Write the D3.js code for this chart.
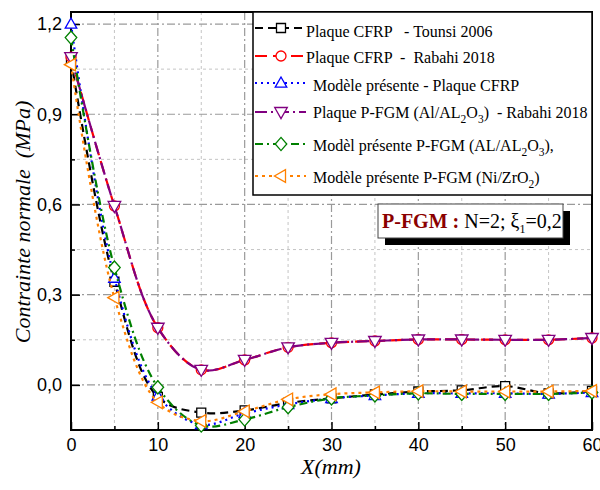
<!DOCTYPE html>
<html><head><meta charset="utf-8">
<script src="https://cdn.jsdelivr.net/npm/d3@7/dist/d3.min.js"></script>
<style>body{margin:0;background:#fff}svg{display:block}text{white-space:pre}</style>
</head><body>
<svg id="chart" width="600" height="490"></svg>
<script>
// ---- data ----
const xValues = [0, 5, 10, 15, 20, 25, 30, 35, 40, 45, 50, 55, 60];
const cfrpTounsi   = [1.08, 0.343, -0.04, -0.092, -0.085, -0.06, -0.045, -0.032, -0.022, -0.018, -0.004, -0.028, -0.02];
const cfrpRabahi   = [1.09, 0.595, 0.19, 0.05, 0.083, 0.125, 0.14, 0.146, 0.151, 0.151, 0.15, 0.15, 0.156];
const modeleCfrp   = [1.2, 0.355, -0.037, -0.132, -0.095, -0.065, -0.045, -0.035, -0.028, -0.028, -0.028, -0.03, -0.025];
const pfgmRabahi   = [1.09, 0.595, 0.19, 0.05, 0.083, 0.125, 0.14, 0.146, 0.151, 0.151, 0.15, 0.15, 0.156];
const modelePfgmAl = [1.155, 0.39, -0.008, -0.135, -0.115, -0.074, -0.045, -0.035, -0.028, -0.03, -0.03, -0.03, -0.025];
const modelePfgmNi = [1.065, 0.29, -0.058, -0.12, -0.088, -0.048, -0.031, -0.025, -0.021, -0.022, -0.022, -0.022, -0.02];
const xTicks = [0, 10, 20, 30, 40, 50, 60];
const yTicks = [0, 0.3, 0.6, 0.9, 1.2];
const xMinor = [5, 15, 25, 35, 45, 55];
const yMinor = [0.15, 0.45, 0.75, 1.05];
const legendLabels = [
  [{t:"Plaque CFRP   - Tounsi 2006"}],
  [{t:"Plaque CFRP  -  Rabahi 2018"}],
  [{t:"Modèle présente - Plaque CFRP"}],
  [{t:"Plaque P-FGM (Al/AL"},{t:"2",sub:1},{t:"O"},{t:"3",sub:1},{t:")  - Rabahi 2018"}],
  [{t:"Modèl présente P-FGM (AL/AL"},{t:"2",sub:1},{t:"O"},{t:"3",sub:1},{t:"),"}],
  [{t:"Modèle présente P-FGM (Ni/ZrO"},{t:"2",sub:1},{t:")"}]
];

const series = [
  {vals: cfrpTounsi,   color:"#000000", dash:"8,5",       marker:"square"},
  {vals: cfrpRabahi,   color:"#FF0000", dash:"12,6",      marker:"circle"},
  {vals: modeleCfrp,   color:"#0000FF", dash:"2,4",       marker:"triUp"},
  {vals: pfgmRabahi,   color:"#800080", dash:"12,4,2,4",  marker:"triDown"},
  {vals: modelePfgmAl, color:"#008000", dash:"8,4,2,4",   marker:"diamond"},
  {vals: modelePfgmNi, color:"#FF8000", dash:"3,4",       marker:"triLeft"}
];

// ---- layout ----
const svg = d3.select("#chart");
const L = 71, R = 592, T = 12, B = 430;
const x = d3.scaleLinear().domain([0, 60]).range([L, R]);
const y = d3.scaleLinear().domain([-0.15, 1.24]).range([B, T]);

svg.append("defs").append("clipPath").attr("id","clip")
  .append("rect").attr("x",L).attr("y",T).attr("width",R-L).attr("height",B-T);

// grid
const g = svg.append("g");
xMinor.forEach(v => g.append("line").attr("x1",x(v)).attr("x2",x(v)).attr("y1",T).attr("y2",B)
  .attr("stroke","#c4c4c4").attr("stroke-width",1).attr("stroke-dasharray","3,3"));
yMinor.forEach(v => g.append("line").attr("x1",L).attr("x2",R).attr("y1",y(v)).attr("y2",y(v))
  .attr("stroke","#c4c4c4").attr("stroke-width",1).attr("stroke-dasharray","3,3"));
xTicks.filter(v=>v>0&&v<60).forEach(v => g.append("line").attr("x1",x(v)).attr("x2",x(v)).attr("y1",T).attr("y2",B)
  .attr("stroke","#9a9a9a").attr("stroke-width",1.2).attr("stroke-dasharray","8,3,2,3"));
yTicks.forEach(v => g.append("line").attr("x1",L).attr("x2",R).attr("y1",y(v)).attr("y2",y(v))
  .attr("stroke","#9a9a9a").attr("stroke-width",1.2).attr("stroke-dasharray","8,3,2,3"));

// axes
const fmt = d => d3.format(".1f")(d).replace(".", ",");
const ax = svg.append("g").attr("transform",`translate(0,${B})`)
  .call(d3.axisBottom(x).tickValues(xTicks).tickSize(-8).tickPadding(8).tickFormat(d3.format("d")));
const axm = svg.append("g").attr("transform",`translate(0,${B})`)
  .call(d3.axisBottom(x).tickValues(xMinor).tickSize(-4).tickFormat(""));
const ay = svg.append("g").attr("transform",`translate(${L},0)`)
  .call(d3.axisLeft(y).tickValues(yTicks).tickSize(-9).tickPadding(9).tickFormat(fmt));
const aym = svg.append("g").attr("transform",`translate(${L},0)`)
  .call(d3.axisLeft(y).tickValues(yMinor).tickSize(-4).tickFormat(""));
[ax, axm, ay, aym].forEach(a => {
  a.select(".domain").remove();
  a.selectAll(".tick line").attr("stroke","#000").attr("stroke-width",1.5);
  a.selectAll("text").attr("font-family","Liberation Sans, Arial, sans-serif").attr("font-size",18).attr("fill","#000");
});

// frame
svg.append("rect").attr("x",L).attr("y",T).attr("width",R-L).attr("height",B-T)
  .attr("fill","none").attr("stroke","#000").attr("stroke-width",2);

// markers
function markerPath(type, s) {
  const h = s/2;
  switch(type){
    case "square": return `M${-h},${-h}H${h}V${h}H${-h}Z`;
    case "circle": return d3.symbol(d3.symbolCircle, Math.PI*h*h)();
    case "triUp": return `M0,${-h*1.1}L${h*1.05},${h*0.75}L${-h*1.05},${h*0.75}Z`;
    case "triDown": return `M0,${h*1.1}L${h*1.05},${-h*0.75}L${-h*1.05},${-h*0.75}Z`;
    case "triLeft": return `M${-h*1.1},0L${h*0.75},${-h*1.05}L${h*0.75},${h*1.05}Z`;
    case "diamond": return `M0,${-h*1.2}L${h*1.05},0L0,${h*1.2}L${-h*1.05},0Z`;
  }
}
const msize = {square:9, circle:10, triUp:11, triDown:12, triLeft:12, diamond:11};

const line = d3.line().x((d,i)=>x(xValues[i])).y(d=>y(d)).curve(d3.curveCatmullRom.alpha(0.5));
const plot = svg.append("g");
series.forEach(s => {
  plot.append("path").attr("d", line(s.vals)).attr("clip-path","url(#clip)")
    .attr("fill","none").attr("stroke",s.color).attr("stroke-width",2.2)
    .attr("stroke-dasharray",s.dash);
  plot.selectAll(null).data(s.vals).enter().append("path")
    .attr("transform",(d,i)=>`translate(${x(xValues[i])},${y(d)})`)
    .attr("d", markerPath(s.marker, msize[s.marker]))
    .attr("fill","#fff").attr("stroke",s.color).attr("stroke-width",1.3);
});

// legend
const lg = svg.append("g");
lg.append("rect").attr("x",253).attr("y",T).attr("width",R-253).attr("height",183)
  .attr("fill","#fff").attr("stroke","#000").attr("stroke-width",1.5);
const rowY = [28, 56, 83, 112, 144, 176];
const baseY = [37, 63, 91, 118, 151, 183];
const textX = [306, 306, 313, 313, 313, 313];
series.forEach((s, i) => {
  lg.append("line").attr("x1",255).attr("x2",306).attr("y1",rowY[i]).attr("y2",rowY[i])
    .attr("stroke",s.color).attr("stroke-width",2.2).attr("stroke-dasharray",s.dash);
  lg.append("path").attr("transform",`translate(281,${rowY[i]})`)
    .attr("d", markerPath(s.marker, msize[s.marker]))
    .attr("fill","#fff").attr("stroke",s.color).attr("stroke-width",1.3);
  const t = lg.append("text").attr("x",textX[i]).attr("y",baseY[i])
    .attr("font-family","Liberation Serif, Times New Roman, serif").attr("font-size",16).attr("fill","#000");
  let shifted = false;
  legendLabels[i].forEach(p => {
    const ts = t.append("tspan").text(p.t);
    if (p.sub) { ts.attr("font-size",11.5).attr("dy", shifted ? 0 : 5); shifted = true; }
    else if (shifted) { ts.attr("dy",-5); shifted = false; }
  });
});

// annotation box
svg.append("rect").attr("x",385).attr("y",211).attr("width",185).attr("height",34).attr("fill","#000");
svg.append("rect").attr("x",378).attr("y",204).attr("width",185).attr("height",34)
  .attr("fill","#fff").attr("stroke","#444").attr("stroke-width",1);
const at = svg.append("text").attr("x",382).attr("y",228)
  .attr("font-family","Liberation Serif, Times New Roman, serif").attr("font-size",20).attr("fill","#000");
at.append("tspan").attr("font-weight","bold").attr("fill","#8B0000").text("P-FGM :");
at.append("tspan").text(" N=2; ξ");
at.append("tspan").attr("font-size",12).attr("dy",5).text("1");
at.append("tspan").attr("dy",-5).text("=0,2");

// axis titles
svg.append("text").attr("transform","translate(30,222) rotate(-90)").attr("text-anchor","middle")
  .attr("font-family","Liberation Serif, Times New Roman, serif").attr("font-style","italic")
  .attr("font-size",22).attr("fill","#000").text("Contrainte normale  (MPa)");
svg.append("text").attr("x",331).attr("y",474).attr("text-anchor","middle")
  .attr("font-family","Liberation Serif, Times New Roman, serif").attr("font-style","italic")
  .attr("font-size",22).attr("fill","#000").text("X(mm)");
</script>
</body></html>
